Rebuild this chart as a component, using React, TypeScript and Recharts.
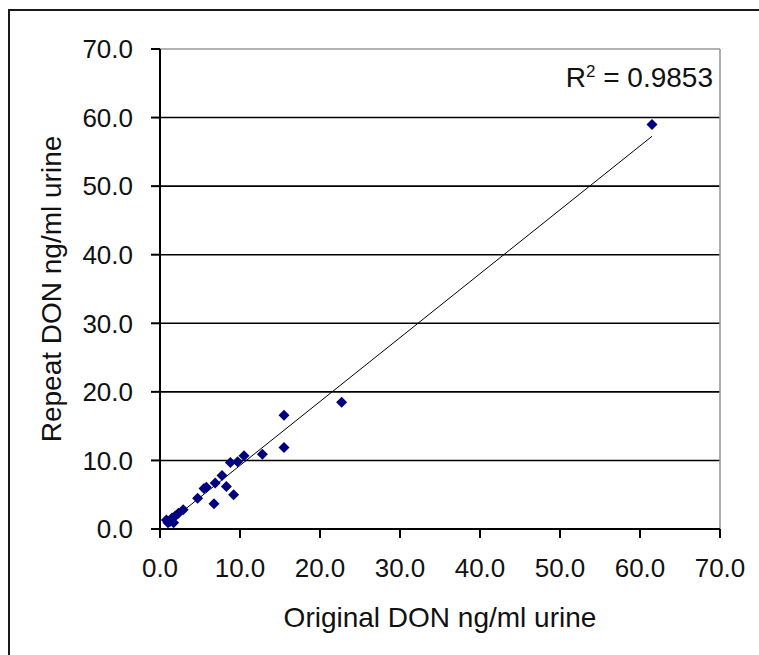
import React from 'react';
import { ScatterChart, Scatter, XAxis, YAxis, ReferenceLine } from 'recharts';

// Original vs. repeat DON measurements (ng/ml urine)
const originalDon = [0.8, 1.0, 1.25, 1.5, 1.7, 1.9, 2.3, 2.9, 4.7, 5.5, 5.8, 6.75, 6.9, 7.75, 8.3, 9.2, 8.8, 9.7, 10.5, 12.8, 15.5, 15.5, 22.7, 61.5];
const repeatDon = [1.3, 0.9, 1.1, 1.6, 0.9, 1.9, 2.3, 2.8, 4.5, 5.9, 6.1, 3.7, 6.7, 7.8, 6.2, 5.0, 9.7, 9.8, 10.7, 10.9, 16.6, 11.9, 18.5, 59.0];

// Linear trendline fitted to the samples
const trendSlope = 0.932;
const trendIntercept = -0.05;
const rSquared = '0.9853';

const axisTicks = [0, 10, 20, 30, 40, 50, 60, 70];
const gridValues = [10, 20, 30, 40, 50, 60];

const points = originalDon.map((x, i) => ({ x, y: repeatDon[i] }));
const xMin = Math.min(...originalDon);
const xMax = Math.max(...originalDon);
const trendPoints = [xMin, xMax].map((x) => ({ x, y: trendSlope * x + trendIntercept }));

const FONT = '"Liberation Sans", Arial, Helvetica, sans-serif';

const Diamond = (props: any) => {
  const { cx, cy } = props;
  if (cx == null || cy == null) return null;
  const r = 5.5;
  return (
    <polygon
      points={`${cx},${cy - r} ${cx + r},${cy} ${cx},${cy + r} ${cx - r},${cy}`}
      fill="#000080"
    />
  );
};

const NoDot = () => null;

export default function App() {
  const tickStyle = { fontSize: 26, fill: '#111', fontFamily: FONT };
  return (
    <div
      style={{
        position: 'fixed',
        left: 0,
        top: 0,
        width: 759,
        height: 655,
        overflow: 'hidden',
        background: '#fff',
        fontFamily: FONT,
      }}
    >
      <div
        style={{
          position: 'absolute',
          left: 8,
          top: 9,
          width: 800,
          height: 700,
          border: '2px solid #1a1a1a',
        }}
      />
      <div style={{ position: 'absolute', left: 0, top: 0 }}>
        <ScatterChart
          width={759}
          height={655}
          margin={{ top: 49, right: 39, bottom: 26, left: 40 }}
        >
          <XAxis
            type="number"
            dataKey="x"
            domain={[0, 70]}
            ticks={axisTicks}
            allowDataOverflow
            tickFormatter={(v: number) => v.toFixed(1)}
            tick={tickStyle}
            tickSize={9}
            tickMargin={21}
            height={100}
            axisLine={{ stroke: '#000', strokeWidth: 2 }}
            tickLine={{ stroke: '#000', strokeWidth: 2 }}
            label={{
              value: 'Original DON ng/ml urine',
              position: 'insideBottom',
              offset: 2,
              style: { fontSize: 28, fill: '#111', fontFamily: FONT },
            }}
          />
          <YAxis
            type="number"
            dataKey="y"
            domain={[0, 70]}
            ticks={axisTicks}
            allowDataOverflow
            tickFormatter={(v: number) => v.toFixed(1)}
            tick={tickStyle}
            tickSize={9}
            tickMargin={18}
            width={120}
            axisLine={{ stroke: '#000', strokeWidth: 2 }}
            tickLine={{ stroke: '#000', strokeWidth: 2 }}
            label={{
              value: 'Repeat DON ng/ml urine',
              angle: -90,
              position: 'insideLeft',
              offset: 11,
              style: { fontSize: 28, fill: '#111', fontFamily: FONT, textAnchor: 'middle' },
            }}
          />
          {gridValues.map((v) => (
            <ReferenceLine key={v} y={v} stroke="#000" strokeWidth={1.6} />
          ))}
          <ReferenceLine y={70} stroke="#999" strokeWidth={1.6} />
          <ReferenceLine x={70} stroke="#999" strokeWidth={1.6} />
          <Scatter
            data={trendPoints}
            line={{ stroke: '#000', strokeWidth: 1 }}
            shape={NoDot}
            legendType="none"
            isAnimationActive={false}
          />
          <Scatter data={points} shape={Diamond} isAnimationActive={false} />
        </ScatterChart>
      </div>
      <div
        style={{
          position: 'absolute',
          right: 46,
          top: 64,
          fontSize: 28,
          lineHeight: '27px',
          color: '#111',
          whiteSpace: 'nowrap',
        }}
      >
        R<sup style={{ fontSize: 17, verticalAlign: 'top', position: 'relative', top: -6 }}>2</sup> = {rSquared}
      </div>
    </div>
  );
}
